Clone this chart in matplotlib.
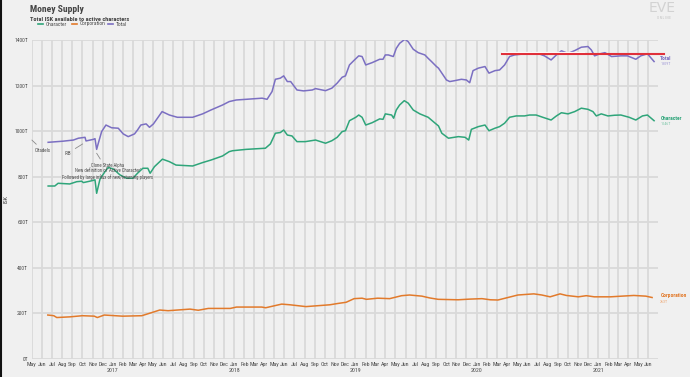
import matplotlib
matplotlib.use('Agg')
import matplotlib.pyplot as plt
from matplotlib.lines import Line2D
import pandas as pd

# Money supply, values in trillions of ISK (T)
total_dates = [
    '2016-06-20', '2016-08-04', '2016-09-04', '2016-09-19', '2016-10-09', '2016-10-12',
    '2016-11-03', '2016-11-08', '2016-11-13', '2016-11-18', '2016-11-28', '2016-12-11',
    '2016-12-28', '2017-01-17', '2017-02-01', '2017-02-16', '2017-03-07', '2017-03-16',
    '2017-03-26', '2017-04-11', '2017-04-21', '2017-05-03', '2017-05-29', '2017-06-20',
    '2017-07-14', '2017-08-29', '2017-09-28', '2017-10-23', '2017-11-27', '2017-12-17',
    '2018-01-07', '2018-02-06', '2018-03-26', '2018-04-10', '2018-04-25', '2018-05-05',
    '2018-05-20', '2018-05-30', '2018-06-10', '2018-06-20', '2018-07-09', '2018-07-29',
    '2018-08-24', '2018-09-03', '2018-10-03', '2018-10-22', '2018-11-07', '2018-11-22',
    '2018-12-02', '2018-12-14', '2018-12-27', '2019-01-11', '2019-01-21', '2019-02-01',
    '2019-02-20', '2019-03-15', '2019-03-25', '2019-04-01', '2019-04-10', '2019-04-25',
    '2019-05-04', '2019-05-14', '2019-05-30', '2019-06-09', '2019-06-24', '2019-07-09',
    '2019-07-29', '2019-08-08', '2019-08-18', '2019-09-02', '2019-09-08', '2019-10-02',
    '2019-10-12', '2019-10-27', '2019-11-16', '2019-12-01', '2019-12-11', '2019-12-21',
    '2020-01-06', '2020-01-26', '2020-02-07', '2020-02-25', '2020-03-10', '2020-03-25',
    '2020-04-09', '2020-04-24', '2020-05-24', '2020-06-13', '2020-07-03', '2020-07-23',
    '2020-08-12', '2020-08-28', '2020-09-12', '2020-10-02', '2020-10-22', '2020-11-11',
    '2020-12-01', '2020-12-11', '2020-12-21', '2021-01-06', '2021-01-21', '2021-02-10',
    '2021-03-10', '2021-03-30', '2021-04-24', '2021-05-09', '2021-05-29', '2021-06-18',
]
total_values = [
    951, 956, 961, 969, 973, 957,
    964, 967, 920, 947, 998, 1027,
    1015, 1013, 988, 976, 988, 1005,
    1027, 1032, 1017, 1032, 1086, 1071,
    1061, 1061, 1076, 1093, 1115, 1130,
    1137, 1140, 1145, 1140, 1174, 1228,
    1233, 1243, 1218, 1218, 1181, 1177,
    1181, 1187, 1178, 1189, 1211, 1237,
    1243, 1291, 1310, 1331, 1328, 1291,
    1301, 1316, 1316, 1335, 1335, 1328,
    1364, 1386, 1404, 1393, 1360, 1345,
    1335, 1320, 1306, 1284, 1277, 1225,
    1218, 1222, 1228, 1225, 1213, 1266,
    1277, 1284, 1255, 1266, 1269, 1291,
    1328, 1335, 1340, 1345, 1342, 1331,
    1313, 1335, 1353, 1342, 1354, 1369,
    1372, 1357, 1331, 1340, 1345, 1328,
    1331, 1331, 1316, 1331, 1340, 1306,
]

character_dates = [
    '2016-06-20', '2016-07-10', '2016-07-20', '2016-08-24', '2016-09-14', '2016-09-29',
    '2016-10-04', '2016-10-29', '2016-11-08', '2016-11-13', '2016-11-23', '2016-12-08',
    '2016-12-18', '2017-01-03', '2017-01-22', '2017-02-11', '2017-03-02', '2017-03-16',
    '2017-04-01', '2017-04-16', '2017-04-23', '2017-05-06', '2017-05-30', '2017-06-20',
    '2017-07-10', '2017-08-29', '2017-09-28', '2017-10-23', '2017-11-27', '2017-12-17',
    '2017-12-27', '2018-01-16', '2018-02-06', '2018-04-05', '2018-04-20', '2018-05-05',
    '2018-05-20', '2018-05-30', '2018-06-10', '2018-06-24', '2018-07-09', '2018-08-03',
    '2018-09-03', '2018-10-03', '2018-10-22', '2018-11-07', '2018-11-22', '2018-12-02',
    '2018-12-14', '2019-01-02', '2019-01-11', '2019-01-21', '2019-02-01', '2019-02-20',
    '2019-03-15', '2019-03-25', '2019-04-01', '2019-04-20', '2019-04-26', '2019-05-04',
    '2019-05-14', '2019-05-28', '2019-06-09', '2019-06-24', '2019-07-14', '2019-08-08',
    '2019-08-29', '2019-09-08', '2019-09-18', '2019-10-08', '2019-11-07', '2019-11-27',
    '2019-12-08', '2019-12-16', '2020-01-06', '2020-01-26', '2020-02-07', '2020-02-25',
    '2020-03-10', '2020-03-25', '2020-04-09', '2020-04-29', '2020-05-24', '2020-06-08',
    '2020-06-28', '2020-07-18', '2020-08-12', '2020-08-28', '2020-09-12', '2020-10-02',
    '2020-10-22', '2020-11-11', '2020-12-01', '2020-12-16', '2020-12-26', '2021-01-10',
    '2021-01-30', '2021-02-19', '2021-03-10', '2021-04-04', '2021-04-24', '2021-05-14',
    '2021-05-29', '2021-06-18',
]
character_values = [
    759, 759, 771, 768, 778, 780,
    774, 782, 786, 727, 789, 822,
    841, 833, 808, 793, 793, 815,
    837, 837, 815, 844, 877, 866,
    851, 847, 862, 873, 891, 910,
    914, 917, 920, 925, 944, 991,
    994, 1005, 983, 979, 954, 954,
    961, 947, 958, 973, 998, 1002,
    1046, 1061, 1071, 1061, 1027, 1037,
    1054, 1052, 1076, 1071, 1057, 1093,
    1115, 1134, 1123, 1093, 1076, 1061,
    1035, 1023, 991, 969, 976, 973,
    961, 1008, 1020, 1027, 1002, 1013,
    1020, 1035, 1061, 1067, 1067, 1071,
    1071, 1061, 1049, 1067, 1081, 1076,
    1086, 1101, 1096, 1086, 1067, 1076,
    1067, 1070, 1071, 1061, 1049, 1067,
    1071, 1046,
]

corporation_dates = [
    '2016-06-19', '2016-07-07', '2016-07-16', '2016-08-25', '2016-10-01', '2016-11-06',
    '2016-11-15', '2016-12-06', '2017-01-30', '2017-03-29', '2017-04-22', '2017-05-22',
    '2017-06-16', '2017-08-21', '2017-09-15', '2017-10-15', '2017-12-20', '2018-01-08',
    '2018-03-25', '2018-04-06', '2018-05-24', '2018-06-18', '2018-08-05', '2018-10-16',
    '2018-11-10', '2018-12-04', '2018-12-28', '2019-01-21', '2019-02-03', '2019-03-09',
    '2019-04-14', '2019-05-20', '2019-06-13', '2019-07-20', '2019-08-13', '2019-09-07',
    '2019-11-06', '2019-12-12', '2020-01-17', '2020-02-11', '2020-03-05', '2020-04-04',
    '2020-05-04', '2020-06-21', '2020-07-15', '2020-08-09', '2020-09-08', '2020-09-27',
    '2020-11-02', '2020-11-26', '2020-12-20', '2021-02-07', '2021-03-13', '2021-04-18',
    '2021-05-24', '2021-06-12',
]
corporation_values = [
    192, 189, 181, 184, 189, 187,
    181, 192, 187, 189, 200, 214,
    211, 218, 213, 221, 221, 227,
    227, 224, 240, 237, 229, 237,
    243, 248, 264, 266, 261, 266,
    264, 277, 280, 275, 267, 261,
    259, 262, 264, 259, 258, 269,
    280, 285, 280, 272, 285, 278,
    272, 277, 272, 272, 275, 278,
    275, 269,
]

y_ticks = [0, 200, 400, 600, 800, 1000, 1200, 1400]
latest_labels = {'Total': '1309T', 'Character': '1046T', 'Corporation': '263T'}

BG = '#f0f0f0'
GRID = '#d9d9d9'
TEXT = '#4a4a4a'
C_TOTAL = '#7b6fc2'
C_CHAR = '#2fa57a'
C_CORP = '#e27a2b'

# narrow font first if it exists, Roboto otherwise
plt.rcParams['font.family'] = ['Roboto Condensed', 'Liberation Sans Narrow', 'Roboto', 'DejaVu Sans']

fig = plt.figure(figsize=(6.9, 3.77), dpi=100, facecolor=BG)
ax = fig.add_axes([0.0457, 0.0485, 0.9085, 0.845])
ax.set_facecolor(BG)

series = [
    (total_dates, total_values, C_TOTAL),
    (character_dates, character_values, C_CHAR),
    (corporation_dates, corporation_values, C_CORP),
]
for d, v, c in series:
    ax.plot(pd.to_datetime(d), v, color=c, lw=1.1, solid_joinstyle='round', zorder=3)

# axes, ticks, grid
ax.set_xlim(pd.Timestamp('2016-05-01'), pd.Timestamp('2021-07-01'))
ax.set_ylim(0, 1400)
months = pd.date_range('2016-05-01', '2021-06-01', freq='MS')
ax.set_xticks(months)
ax.set_xticklabels([m.strftime('%b') + ('\n' + m.strftime('%Y') if m.month == 1 else '')
                    for m in months], fontsize=4.2, color=TEXT, linespacing=1.15, va='top')
ax.set_yticks(y_ticks)
ax.set_yticklabels([f'{t}T' for t in y_ticks], fontsize=4, color=TEXT)
ax.tick_params(length=0, pad=2.5)
ax.grid(True, color=GRID, lw=1.3, zorder=0)
for s in ax.spines.values():
    s.set_visible(False)
ax.set_ylabel('ISK', fontsize=4.4, color=TEXT, labelpad=4)

# right-hand series labels (name, colour, light colour, label level, value level)
side = [
    ('Total', C_TOTAL, '#a59ed8', 1320, 1296),
    ('Character', C_CHAR, '#7fc8aa', 1054, 1030),
    ('Corporation', C_CORP, '#eeaa78', 276, 250),
]
for name, c, c_light, yv, ys in side:
    ax.text(1.003, yv / 1400, name, transform=ax.transAxes, color=c,
            fontsize=4, fontweight='bold', va='center', ha='left')
    ax.text(1.003, ys / 1400, latest_labels[name], transform=ax.transAxes,
            color=c_light, fontsize=3, va='center', ha='left')

# red reference line
ax.plot(pd.to_datetime(['2020-03-17', '2020-11-18']), [1348, 1348], color='white',
        lw=0.9, clip_on=False, zorder=4)
ax.plot(pd.to_datetime(['2020-03-17', '2021-07-18']), [1338, 1338], color='#e0303a',
        lw=1.5, clip_on=False, zorder=5)

# annotations
arrow = dict(arrowstyle='-', color='#8a8a8a', lw=0.6, shrinkA=1, shrinkB=0)
ax.annotate('Citadels', xy=(pd.Timestamp('2016-05-02'), 961),
            xytext=(pd.Timestamp('2016-06-04'), 915), fontsize=3.6, color=TEXT,
            ha='center', va='center', arrowprops=arrow)
ax.annotate('IRB', xy=(pd.Timestamp('2016-10-02'), 944),
            xytext=(pd.Timestamp('2016-08-19'), 904), fontsize=3.6, color=TEXT,
            ha='center', va='center', arrowprops=arrow)
ax.annotate('Clone State Alpha\nNew definition of \u2018Active Character\u2019\n'
            'Followed by large influx of new/returning players',
            xy=(pd.Timestamp('2016-11-13'), 903),
            xytext=(pd.Timestamp('2016-12-17'), 860), fontsize=3.4, color=TEXT,
            ha='center', va='top', linespacing=1.1, arrowprops=arrow, zorder=6)

# title and legend
fig.text(0.0435, 0.975, 'Money Supply', fontsize=6.8, fontweight='bold', color='#444444',
         va='center', ha='left')
fig.text(0.0435, 0.949, 'Total ISK available to active characters', fontsize=4.5,
         fontweight='bold', color='#444444', va='center', ha='left')
legend_items = [('Character', C_CHAR, 38), ('Corporation', C_CORP, 72), ('Total', C_TOTAL, 108)]
for name, c, px in legend_items:
    fig.add_artist(Line2D([px / 690, (px + 5) / 690], [1 - 24 / 377] * 2, color=c, lw=1.2))
    fig.text((px + 8) / 690, 1 - 24 / 377, name, fontsize=4, color=TEXT, va='center', ha='left')

# logo
fig.text(662 / 690, 1 - 8 / 377, 'EVE', fontsize=10, color='#d2d2d2', ha='center',
         va='center', family=['DejaVu Sans'])
fig.text(664 / 690, 1 - 18 / 377, 'O N L I N E', fontsize=2.4, color='#bdbdbd',
         ha='center', va='center')

# dark left border strip
fig.add_artist(Line2D([0.001, 0.001], [0, 1], color='#111111', lw=1.5))

fig.savefig('out.png', dpi=100, facecolor=BG)
